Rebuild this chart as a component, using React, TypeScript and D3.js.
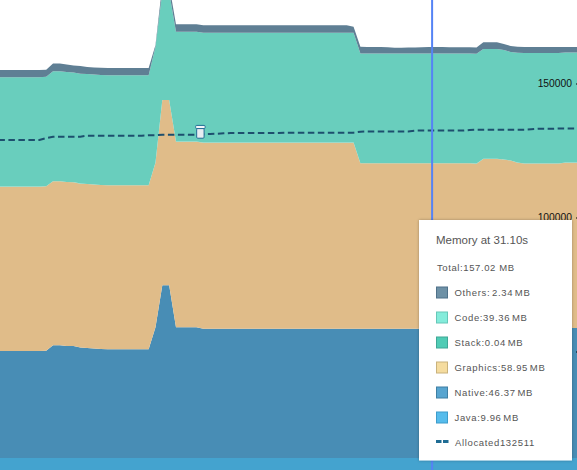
import React, { useEffect, useRef } from 'react';
import * as d3 from 'd3';

// sampled every 0.5s, values in KB
const sampleTimes = d3.range(86).map(i => -0.65 + i * 0.5);

const java = [
  10300, 10300, 10300, 10300, 10300, 10300, 10300, 10300, 10300, 10300,
  10300, 10300, 10300, 10300, 10300, 10300, 10300, 10300, 10300, 10300,
  10300, 10300, 10300, 10300, 10300, 10300, 10300, 10300, 10300, 10300,
  10300, 10300, 10300, 10300, 10300, 10300, 10300, 10300, 10300, 10300,
  10300, 10300, 10300, 10300, 10300, 10300, 10300, 10300, 10300, 10300,
  10300, 10300, 10300, 10300, 10300, 10300, 10300, 10300, 10300, 10300,
  10300, 10300, 10300, 10300, 10300, 10300, 10300, 10300, 10300, 10300,
  10300, 10300, 10300, 10300, 10300, 10300, 10300, 10300, 10300, 10300,
  10300, 10300, 10300, 10300, 10300, 10300,
];
const native = [
  39890, 39890, 39890, 39890, 39890, 39890, 39890, 40000, 42050, 42050,
  41750, 41750, 41190, 41005, 40820, 40630, 40520, 40520, 40520, 40520,
  40520, 40520, 40520, 48730, 64400, 64400, 48730, 48730, 48730, 48730,
  48210, 48210, 48210, 48210, 48210, 48210, 48210, 48210, 48210, 48210,
  48210, 48210, 48210, 48210, 48210, 48210, 48210, 48210, 48210, 48210,
  48210, 48210, 48210, 48210, 48210, 48210, 48210, 48210, 48210, 48210,
  48210, 48210, 48210, 48210, 48210, 48210, 48210, 48210, 48210, 48210,
  48210, 50150, 50150, 50150, 49960, 49590, 48580, 48210, 48210, 48210,
  48210, 48210, 48210, 48470, 48470, 48470,
];
const graphics = [
  61305, 61305, 61305, 61305, 61305, 61305, 61305, 61342, 61156, 61156,
  61193, 61119, 61119, 61193, 61193, 61193, 61193, 61193, 61193, 61193,
  61193, 61193, 61193, 61417, 69141, 69141, 69253, 69253, 69253, 69253,
  69402, 69402, 69402, 69402, 69402, 69402, 69402, 69402, 69402, 69402,
  69402, 69402, 69402, 69402, 69402, 69402, 69402, 69402, 69402, 69402,
  69402, 69402, 69402, 61716, 61716, 61716, 61716, 61716, 61716, 61716,
  61716, 61716, 61716, 61716, 61716, 61716, 61716, 61716, 61716, 61716,
  61566, 61417, 61417, 61417, 61380, 61380, 61566, 61641, 61641, 61641,
  61641, 61641, 61641, 61678, 61678, 61678,
];
const stackMem = [
  41, 41, 41, 41, 41, 41, 41, 41, 41, 41,
  41, 41, 41, 41, 41, 41, 41, 41, 41, 41,
  41, 41, 41, 41, 41, 41, 41, 41, 41, 41,
  41, 41, 41, 41, 41, 41, 41, 41, 41, 41,
  41, 41, 41, 41, 41, 41, 41, 41, 41, 41,
  41, 41, 41, 41, 41, 41, 41, 41, 41, 41,
  41, 41, 41, 41, 41, 41, 41, 41, 41, 41,
  41, 41, 41, 41, 41, 41, 41, 41, 41, 41,
  41, 41, 41, 41, 41, 41,
];
const code = [
  40780, 40780, 40780, 40780, 40780, 40780, 40780, 40855, 41000, 41000,
  41000, 40930, 41000, 41000, 41000, 41000, 41000, 41000, 41000, 41000,
  41000, 41000, 41000, 43240, 40260, 40260, 41000, 41000, 41000, 41000,
  41000, 41000, 41000, 41000, 41000, 41000, 41000, 41000, 41000, 41000,
  41000, 41000, 41000, 41000, 41000, 41000, 41000, 41000, 41000, 41000,
  41000, 41000, 41000, 40970, 40970, 40970, 40970, 40970, 40970, 40970,
  40970, 40970, 40970, 40970, 40970, 40970, 40970, 40970, 40970, 40970,
  40970, 40970, 40970, 40970, 40820, 40445, 41000, 41190, 41190, 41190,
  41190, 41190, 41190, 41080, 41080, 41080,
];
const others = [
  2724, 2724, 2724, 2724, 2724, 2724, 2724, 2612, 2910, 2910,
  2800, 2612, 2873, 2612, 2612, 2724, 2724, 2724, 2724, 2724,
  2724, 2724, 2724, 634, 2724, 2724, 2760, 2760, 2760, 2800,
  2760, 2760, 2760, 2760, 2760, 2760, 2760, 2760, 2760, 2760,
  2760, 2760, 2760, 2760, 2760, 2760, 2760, 2760, 2760, 2760,
  2760, 2760, 2240, 2463, 2388, 2388, 2388, 2300, 2127, 2127,
  2200, 2240, 2313, 2350, 2350, 2350, 2313, 2313, 2313, 2313,
  2313, 2500, 2500, 2500, 2240, 2240, 2240, 2240, 2240, 2240,
  2240, 2240, 2240, 2052, 2052, 2052,
];
const allocated = [
  128915, 128915, 128915, 128915, 128915, 128915, 128915, 129662, 130110, 130147,
  130147, 130147, 130147, 130521, 130521, 130521, 130521, 130521, 130521, 130521,
  130521, 130521, 130670, 130670, 130894, 130894, 130894, 130894, 130894, 130894,
  131043, 131155, 131267, 131416, 131528, 131528, 131528, 131528, 131528, 131528,
  131528, 131528, 131640, 131640, 131640, 131640, 131640, 131640, 131640, 131640,
  131640, 131640, 131640, 132013, 132125, 132125, 132125, 132125, 132125, 132125,
  132125, 132424, 132424, 132424, 132424, 132424, 132424, 132424, 132424, 132648,
  132760, 132760, 132760, 132760, 132760, 132760, 132760, 132760, 132909, 133096,
  133096, 133096, 133207, 133207, 133207, 133207,
];

const layerNames = ['java', 'native', 'graphics', 'stack', 'code', 'others'];
const layerColors = ['#44a3cf', '#488db5', '#e0bc89', '#69cebd', '#69cebd', '#5f7f94'];
const yTicks = [50000, 100000, 150000];

const cursorTime = 31.1;
const gcTime = 14.1;
const gcAllocated = 130894;

const legendLabels = [
  'Others: 2.34 MB',
  'Code:39.36 MB',
  'Stack:0.04 MB',
  'Graphics:58.95 MB',
  'Native:46.37 MB',
  'Java:9.96 MB',
];
const legendFills = ['#6e91a6', '#84ecdb', '#50ccb5', '#f5dc9f', '#58a5d0', '#56bcec'];
const legendStrokes = ['#4f7189', '#66c7b8', '#3fa796', '#c9b27c', '#3f7fa3', '#3d9ccb'];

const width = 577;
const height = 470;

const App = () => {
  const chartRef = useRef<SVGSVGElement>(null);

  useEffect(() => {
    document.body.style.margin = '0';
    const svg = d3.select(chartRef.current);
    svg.selectAll('*').remove();

    const x = d3.scaleLinear()
      .domain([sampleTimes[0], sampleTimes[sampleTimes.length - 1]])
      .range([-1.6, 578.95]);
    const y = d3.scaleLinear().domain([0, 150000]).range([485.5, 83.5]);

    const rows = sampleTimes.map((t, i) => ({
      t,
      java: java[i],
      native: native[i],
      graphics: graphics[i],
      stack: stackMem[i],
      code: code[i],
      others: others[i],
      allocated: allocated[i],
    }));

    const series = d3.stack().keys(layerNames)(rows as any);
    const area = d3.area<any>()
      .x(d => x(d.data.t))
      .y0(d => y(d[0]))
      .y1(d => y(d[1]));

    const defs = svg.append('defs');
    const shadow = defs.append('filter')
      .attr('id', 'tip-shadow')
      .attr('x', '-10%').attr('y', '-10%')
      .attr('width', '120%').attr('height', '120%');
    shadow.append('feDropShadow')
      .attr('dx', 0).attr('dy', 0)
      .attr('stdDeviation', 1.5)
      .attr('flood-color', '#000')
      .attr('flood-opacity', 0.3);

    svg.append('g')
      .selectAll('path')
      .data(series)
      .enter()
      .append('path')
      .attr('d', d => area(d as any))
      .attr('fill', (d, i) => layerColors[i]);

    const line = d3.line<any>().x(d => x(d.t)).y(d => y(d.allocated));
    svg.append('path')
      .datum(rows)
      .attr('d', line)
      .attr('fill', 'none')
      .attr('stroke', '#1d4f6e')
      .attr('stroke-width', 2)
      .attr('stroke-dasharray', '6.5 3.5');

    // gc marker sits just above the allocated line
    const gc = svg.append('g').attr('transform', `translate(${x(gcTime) + 0.5},${y(gcAllocated) - 3.5})`);
    gc.append('rect')
      .attr('x', -3.7).attr('y', -2.7)
      .attr('width', 7.4).attr('height', 9.7)
      .attr('rx', 1)
      .attr('fill', '#e8edf2')
      .attr('stroke', '#1f6c94')
      .attr('stroke-width', 1);
    gc.append('rect')
      .attr('x', -4.7).attr('y', -5.8)
      .attr('width', 9.4).attr('height', 3.2)
      .attr('rx', 1)
      .attr('fill', '#f4f6f8')
      .attr('stroke', '#1f6c94')
      .attr('stroke-width', 1);

    const axis = svg.append('g')
      .attr('transform', 'translate(578,0)')
      .call(d3.axisLeft(y).tickValues(yTicks).tickSize(2).tickPadding(4).tickFormat(d => String(d)));
    axis.select('.domain').remove();
    axis.selectAll('text')
      .attr('font-family', '"Liberation Sans", Arial, sans-serif')
      .attr('font-size', 10.3)
      .attr('fill', '#111');

    svg.append('line')
      .attr('x1', x(cursorTime)).attr('x2', x(cursorTime))
      .attr('y1', 0).attr('y2', height)
      .attr('stroke', '#5583f5')
      .attr('stroke-width', 2);

    // tooltip
    const tip = svg.append('g').attr('font-family', '"Liberation Sans", Arial, sans-serif');
    tip.append('rect')
      .attr('x', 419).attr('y', 220)
      .attr('width', 153).attr('height', 240.5)
      .attr('fill', '#fff')
      .attr('filter', 'url(#tip-shadow)');
    tip.append('text')
      .attr('x', 436).attr('y', 244)
      .attr('font-size', 11.5)
      .attr('fill', '#555')
      .text('Memory at 31.10s');
    tip.append('text')
      .attr('x', 437).attr('y', 271)
      .attr('font-size', 9.5)
      .attr('letter-spacing', 0.6)
      .attr('fill', '#555')
      .text('Total:157.02 MB');

    const rowY = d3.scalePoint<number>().domain(d3.range(7)).range([292.5, 442.5]);
    const rowsG = tip.selectAll('g.row')
      .data(legendLabels)
      .enter()
      .append('g')
      .attr('class', 'row')
      .attr('transform', (d, i) => `translate(0,${rowY(i)})`);
    rowsG.append('rect')
      .attr('x', 436.5).attr('y', -5.5)
      .attr('width', 11).attr('height', 11)
      .attr('fill', (d, i) => legendFills[i])
      .attr('stroke', (d, i) => legendStrokes[i]);
    rowsG.append('text')
      .attr('x', 454.5).attr('y', 3.5)
      .attr('font-size', 9.5)
      .attr('letter-spacing', 0.65)
      .attr('word-spacing', -1.5)
      .attr('fill', '#555')
      .text(d => d);

    const allocRow = tip.append('g').attr('transform', `translate(0,${rowY(6)})`);
    allocRow.append('line')
      .attr('x1', 436).attr('x2', 448.5)
      .attr('y1', -1).attr('y2', -1)
      .attr('stroke', '#1f6c94')
      .attr('stroke-width', 3)
      .attr('stroke-dasharray', '5.5 1.5');
    allocRow.append('text')
      .attr('x', 455).attr('y', 3.5)
      .attr('font-size', 9.5)
      .attr('letter-spacing', 0.65)
      .attr('fill', '#555')
      .text('Allocated132511');
  }, []);

  return <svg ref={chartRef} width={width} height={height} style={{ display: 'block' }}></svg>;
};

export default App;
